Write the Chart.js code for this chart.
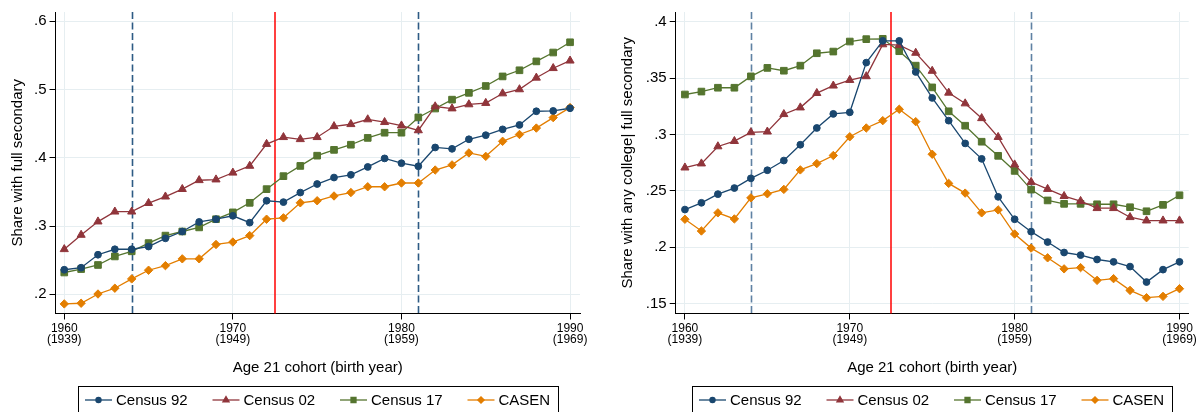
<!DOCTYPE html>
<html>
<head>
<meta charset="utf-8">
<script src="https://cdn.jsdelivr.net/npm/chart.js@4.4.1/dist/chart.umd.min.js"></script>
<style>
  html, body { margin: 0; padding: 0; background: #fff; }
  #wrap { position: relative; width: 1200px; height: 412px; overflow: hidden; }
  .panel { position: absolute; top: 0; width: 600px; height: 412px; }
</style>
</head>
<body>
<div id="wrap">
  <div class="panel" style="left:0"><canvas id="left-chart" width="600" height="412"></canvas></div>
  <div class="panel" style="left:600px"><canvas id="right-chart" width="600" height="412"></canvas></div>
</div>
<script>
const years = [1960, 1961, 1962, 1963, 1964, 1965, 1966, 1967, 1968, 1969, 1970, 1971, 1972, 1973, 1974, 1975,
  1976, 1977, 1978, 1979, 1980, 1981, 1982, 1983, 1984, 1985, 1986, 1987, 1988, 1989, 1990];
const xTicks = [1960, 1970, 1980, 1990];
const seriesNames = ['Census 92', 'Census 02', 'Census 17', 'CASEN'];

// left panel: share with full secondary
const secCensus92 = [0.236, 0.239, 0.258, 0.266, 0.266, 0.270, 0.282, 0.292, 0.306, 0.310, 0.315, 0.305, 0.337, 0.335,
  0.349, 0.3615, 0.371, 0.375, 0.3865, 0.399, 0.392, 0.3875, 0.415, 0.413, 0.427, 0.433, 0.4415, 0.448, 0.468, 0.4685, 0.4724];
const secCensus02 = [0.266, 0.287, 0.3065, 0.321, 0.321, 0.3335, 0.343, 0.354, 0.367, 0.368, 0.378, 0.388, 0.420, 0.430,
  0.427, 0.430, 0.446, 0.449, 0.456, 0.452, 0.447, 0.440, 0.475, 0.472, 0.478, 0.480, 0.494, 0.500, 0.517, 0.531, 0.542];
const secCensus17 = [0.232, 0.237, 0.243, 0.2555, 0.263, 0.275, 0.286, 0.292, 0.298, 0.310, 0.320, 0.334, 0.354, 0.373,
  0.388, 0.403, 0.4115, 0.419, 0.429, 0.4366, 0.4366, 0.459, 0.472, 0.485, 0.495, 0.505, 0.519, 0.528, 0.541, 0.554, 0.569];
const secCasen = [0.186, 0.187, 0.2005, 0.209, 0.2226, 0.2353, 0.242, 0.252, 0.252, 0.273, 0.2766, 0.286, 0.310, 0.312,
  0.334, 0.337, 0.344, 0.349, 0.3575, 0.3575, 0.363, 0.363, 0.382, 0.3895, 0.407, 0.402, 0.424, 0.434, 0.4434, 0.4587, 0.4734];
const secYTicks = [0.2, 0.3, 0.4, 0.5, 0.6];

// right panel: share with any college | full secondary
const colCensus92 = [0.2333, 0.2393, 0.247, 0.2524, 0.261, 0.2682, 0.2768, 0.2908, 0.3057, 0.3182, 0.3196, 0.3637, 0.383,
  0.383, 0.3554, 0.3324, 0.3122, 0.292, 0.2783, 0.2446, 0.2247, 0.2137, 0.2045, 0.1952, 0.1929, 0.189, 0.1869, 0.1827, 0.169, 0.18, 0.1869];
const colCensus02 = [0.2705, 0.2741, 0.2893, 0.294, 0.3018, 0.3024, 0.3179, 0.3238, 0.3366, 0.3432, 0.3482, 0.3515, 0.3798,
  0.3792, 0.3723, 0.3563, 0.3369, 0.3274, 0.3143, 0.2976, 0.2732, 0.2577, 0.2515, 0.2452, 0.2408, 0.2345, 0.2345, 0.2265, 0.2235, 0.2235, 0.2235];
const colCensus17 = [0.3354, 0.338, 0.3414, 0.3414, 0.3515, 0.359, 0.3565, 0.361, 0.372, 0.3735, 0.3824, 0.3845, 0.3848,
  0.3738, 0.361, 0.3417, 0.3205, 0.3077, 0.2935, 0.281, 0.2676, 0.251, 0.2414, 0.2384, 0.2384, 0.238, 0.238, 0.2354, 0.2318, 0.2375, 0.246];
const colCasen = [0.2247, 0.2143, 0.2304, 0.225, 0.2437, 0.2473, 0.2512, 0.2685, 0.2741, 0.2813, 0.2979, 0.3057, 0.3122,
  0.3223, 0.3113, 0.2824, 0.2565, 0.2479, 0.2304, 0.233, 0.2116, 0.1991, 0.1905, 0.1807, 0.1818, 0.1705, 0.172, 0.1616, 0.1551, 0.1563, 0.1631];
const colYTicks = [0.15, 0.2, 0.25, 0.3, 0.35, 0.4];

// reference lines
const dashedYears = [1964, 1981];
const redYears = [1972.5];

const FONT = "'Liberation Sans', Arial, sans-serif";
const gridColor = '#e6eef1';
const colors = ['#1a476f', '#90353b', '#55752f', '#e37e00'];
const markers = ['circle', 'triangle', 'rect', 'rectRot'];
const markerSizes = [3.4, 4.7, 4.7, 4.2];

function makeDatasets(seriesList) {
  return seriesList.map((vals, i) => ({
    label: seriesNames[i],
    data: years.map((x, j) => ({ x: x, y: vals[j] })),
    borderColor: colors[i],
    backgroundColor: colors[i],
    borderWidth: 1.3,
    pointStyle: markers[i],
    pointRadius: markerSizes[i],
    pointBorderWidth: 1,
    pointBorderColor: colors[i],
    pointBackgroundColor: colors[i],
    tension: 0
  }));
}

const refLinePlugin = {
  id: 'refLines',
  beforeDatasetsDraw(chart, args, opts) {
    const ctx = chart.ctx, a = chart.chartArea, xs = chart.scales.x;
    ctx.save();
    dashedYears.forEach(yr => {
      const px = Math.round(xs.getPixelForValue(yr)) + 0.5;
      ctx.strokeStyle = opts.dashColor;
      ctx.lineWidth = 1.6;
      ctx.setLineDash([7, 3.5]);
      ctx.beginPath(); ctx.moveTo(px, a.top); ctx.lineTo(px, a.bottom); ctx.stroke();
    });
    redYears.forEach(yr => {
      const px = Math.round(xs.getPixelForValue(yr));
      ctx.strokeStyle = '#ff0000';
      ctx.lineWidth = 1.5;
      ctx.setLineDash([]);
      ctx.beginPath(); ctx.moveTo(px, a.top); ctx.lineTo(px, a.bottom); ctx.stroke();
    });
    ctx.restore();
  }
};

const boxLegendPlugin = {
  id: 'boxLegend',
  afterDraw(chart) {
    const ctx = chart.ctx, a = chart.chartArea;
    const w = 480, x0 = Math.round((a.left + a.right) / 2 - w / 2) + 0.5, top = 386.5, cy = 400;
    ctx.save();
    ctx.strokeStyle = '#000';
    ctx.lineWidth = 1;
    ctx.strokeRect(x0, top, w, 40);
    ctx.font = '15px ' + FONT;
    ctx.textBaseline = 'middle';
    chart.data.datasets.forEach((ds, i) => {
      const lx = x0 + 6.5 + i * 127.5;
      ctx.strokeStyle = ds.borderColor;
      ctx.lineWidth = 1.3;
      ctx.beginPath(); ctx.moveTo(lx, cy); ctx.lineTo(lx + 27, cy); ctx.stroke();
      ctx.fillStyle = ds.backgroundColor;
      Chart.helpers.drawPoint(ctx, { pointStyle: ds.pointStyle, radius: ds.pointRadius * 0.75, borderWidth: 1, rotation: 0 }, lx + 13.5, cy);
      ctx.fillStyle = '#000';
      ctx.fillText(ds.label, lx + 31, cy + 1);
    });
    ctx.restore();
  }
};

function fmtY(v) {
  return String(+v.toFixed(2)).replace(/^0/, '');
}

function buildChart(id, datasets, cfg) {
  return new Chart(document.getElementById(id), {
    type: 'line',
    data: { datasets },
    plugins: [refLinePlugin, boxLegendPlugin],
    options: {
      responsive: false,
      animation: false,
      devicePixelRatio: 1,
      layout: { padding: { top: 12, bottom: 35, left: 0, right: cfg.padRight } },
      plugins: {
        legend: { display: false },
        tooltip: { enabled: false },
        refLines: { dashColor: cfg.dashColor }
      },
      scales: {
        x: {
          type: 'linear',
          min: cfg.xMin,
          max: cfg.xMax,
          afterBuildTicks: s => { s.ticks = xTicks.map(v => ({ value: v })); },
          ticks: {
            callback: v => [String(v), '(' + (v - 21) + ')'],
            font: { family: FONT, size: 12, lineHeight: 0.98 },
            color: '#000',
            padding: 3,
            maxRotation: 0,
            autoSkip: false
          },
          grid: { color: gridColor, tickColor: '#000', tickLength: 6, lineWidth: 1 },
          border: { color: '#000', width: 1 },
          title: {
            display: true,
            text: 'Age 21 cohort (birth year)',
            font: { family: FONT, size: 15 },
            color: '#000',
            padding: { top: 10, bottom: 0 }
          }
        },
        y: {
          type: 'linear',
          min: cfg.yMin,
          max: cfg.yMax,
          afterBuildTicks: s => { s.ticks = cfg.yTicks.map(v => ({ value: v })); },
          afterFit: s => { s.width = cfg.yWidth; },
          ticks: {
            callback: v => fmtY(v),
            font: { family: FONT, size: 15 },
            color: '#000',
            padding: 3
          },
          grid: { color: gridColor, tickColor: '#000', tickLength: 6, lineWidth: 1 },
          border: { color: '#000', width: 1 },
          title: {
            display: true,
            text: cfg.yTitle,
            font: { family: FONT, size: 15 },
            color: '#000',
            padding: { top: cfg.titlePad, bottom: 0 }
          }
        }
      }
    }
  });
}

buildChart('left-chart', makeDatasets([secCensus92, secCensus02, secCensus17, secCasen]), {
  xMin: 1959.48, xMax: 1990.59, yMin: 0.172, yMax: 0.6133, yTicks: secYTicks,
  yWidth: 55.5, padRight: 20, titlePad: 9,
  yTitle: 'Share with full secondary', dashColor: '#2d5a84'
});

buildChart('right-chart', makeDatasets([colCensus92, colCensus02, colCensus17, colCasen]), {
  xMin: 1959.44, xMax: 1990.56, yMin: 0.1411, yMax: 0.4086, yTicks: colYTicks,
  yWidth: 75.7, padRight: 9, titlePad: 19,
  yTitle: 'Share with any college| full secondary', dashColor: '#5f81a3'
});
</script>
</body>
</html>
